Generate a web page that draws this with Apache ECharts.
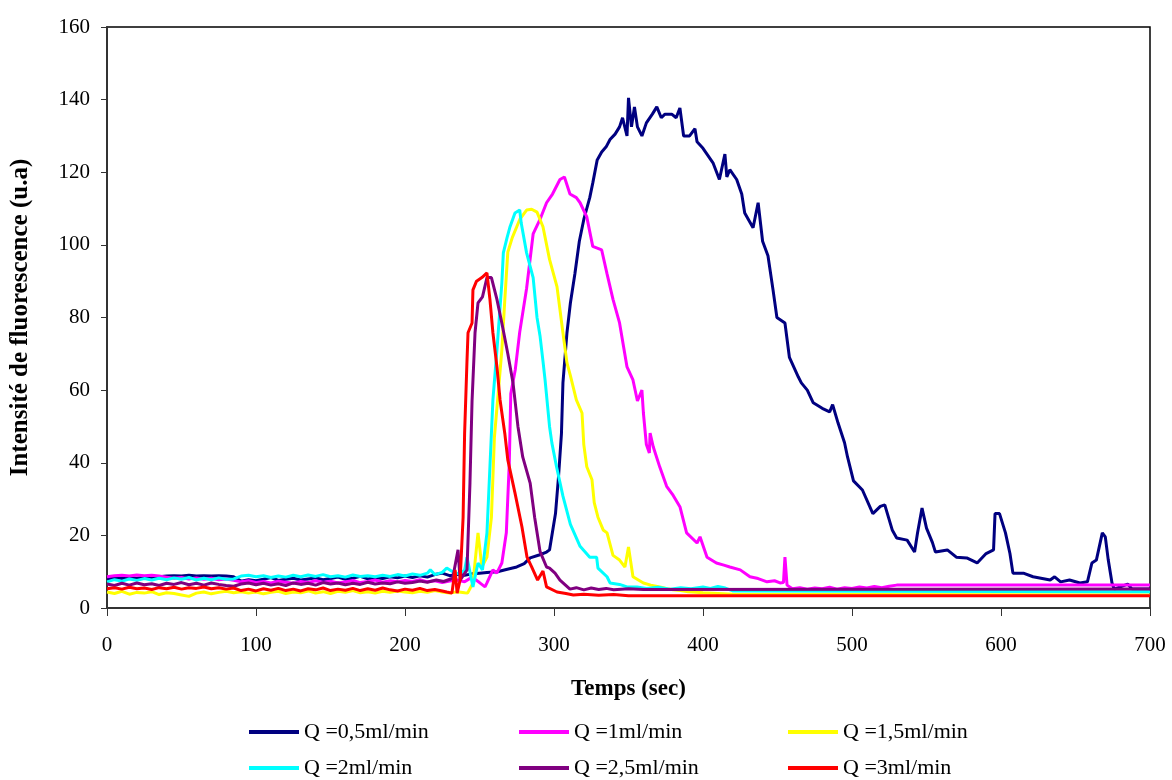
<!DOCTYPE html>
<html>
<head>
    <title>Intensité de fluorescence</title>
    <meta charset="utf-8" />
    <style>
        html, body { margin: 0; padding: 0; background: #fff; }
        #chart { width: 1172px; height: 780px; }
    </style>
</head>
<body>
    <div id="chart"></div>

    <script src="https://cdn.jsdelivr.net/npm/echarts@6/dist/echarts.min.js"></script>
    <script>
        // data: [temps (sec), intensité (u.a)]
        // ------------------------------------------------------
        var seriesNames = ['Q =0,5ml/min', 'Q =1ml/min', 'Q =1,5ml/min', 'Q =2ml/min', 'Q =2,5ml/min', 'Q =3ml/min'];
        var seriesColors = ['#000080', '#FF00FF', '#FFFF00', '#00FFFF', '#800080', '#FF0000'];
        var xTicks = [0, 100, 200, 300, 400, 500, 600, 700];
        var yTicks = [0, 20, 40, 60, 80, 100, 120, 140, 160];

        var q05 = [
            [0, 8.0], [5, 8.3], [10, 8.1], [15, 8.4], [20, 8.2], [25, 8.5], [30, 8.3], [35, 8.6], [40, 8.8], [45, 8.9],
            [50, 8.8], [55, 9.0], [60, 8.8], [65, 8.9], [70, 8.8], [75, 8.9], [80, 8.8], [85, 8.6], [90, 7.4], [95, 7.8],
            [100, 7.5], [105, 7.9], [110, 8.4], [115, 7.6], [120, 7.9], [125, 8.2], [130, 7.7], [135, 8.0], [140, 8.3], [145, 7.8],
            [150, 8.1], [155, 8.5], [160, 7.9], [165, 8.2], [170, 8.7], [175, 8.0], [180, 8.4], [185, 8.1], [190, 8.6], [195, 8.3],
            [200, 8.8], [205, 8.4], [210, 8.9], [215, 8.5], [220, 9.2], [225, 9.6], [230, 8.9], [235, 9.3], [240, 9.0], [245, 9.4],
            [250, 9.6], [255, 9.8], [262, 10.0], [268, 10.6], [275, 11.3], [280, 12.2], [284, 13.8], [290, 14.6], [295, 15.4], [297, 16],
            [301, 26], [303, 36], [305, 48], [306, 62], [308.7, 75.8], [311, 84], [314, 92], [317, 101], [320, 107], [324, 113],
            [326, 117], [329, 123.4], [332, 125.6], [335, 127], [337.6, 129], [341, 130.5], [344, 132.5], [346, 135], [349, 130], [350, 140.5],
            [352, 132.5], [354, 138], [356, 132.5], [359, 130], [362, 133.6], [366, 136], [369, 138], [372, 135], [374.5, 136], [379, 136],
            [382, 135], [384.5, 137.7], [387, 130], [391, 130], [394.6, 132], [396, 128.4], [400, 126.6], [406.7, 122.6], [411, 118], [414.7, 125],
            [416, 118.7], [418, 120.7], [422.6, 118], [426, 114], [428, 108.8], [433.6, 104.7], [437, 111.6], [440, 101], [443.6, 97], [447, 87.6],
            [449.6, 80], [455, 78.5], [458, 69], [464, 63.6], [466, 62], [470, 60], [474, 56.5], [480, 55], [485, 54], [487, 56],
            [490.6, 51], [495, 45.5], [497, 41.6], [501, 35], [507, 32.5], [514, 26], [519, 28], [522, 28.4], [527, 21.5], [530, 19.3],
            [537, 18.7], [542, 15.4], [544, 20.7], [547, 27.5], [550, 22], [554, 18], [556, 15.4], [564, 16], [570, 14], [577, 13.8],
            [584, 12.4], [590, 15], [595, 16], [596, 26], [599, 26], [603, 20.7], [606, 15], [608, 9.6], [615, 9.6], [621.5, 8.6],
            [633, 7.7], [636, 8.6], [640, 7.2], [646, 7.7], [653, 6.9], [658, 7.2], [661, 12.4], [664, 13.2], [668, 20.7], [670, 19.6],
            [672, 13.2], [674.5, 6.9], [676, 5.2], [685, 6.6], [688, 5.2], [700, 5.2]
        ];

        var q1 = [
            [0, 8.6], [5, 8.9], [10, 9.0], [15, 8.8], [20, 9.1], [25, 8.9], [30, 9.0], [35, 8.8], [40, 8.5], [45, 8.2],
            [50, 8.4], [55, 8.0], [60, 8.3], [65, 7.9], [70, 8.2], [75, 7.8], [80, 8.0], [85, 7.6], [90, 7.2], [95, 7.5],
            [100, 7.0], [105, 7.3], [110, 6.9], [115, 7.4], [120, 7.1], [125, 6.8], [130, 7.3], [135, 7.0], [140, 7.5], [145, 7.1],
            [150, 7.4], [155, 6.9], [160, 7.2], [165, 7.6], [170, 7.0], [175, 7.3], [180, 7.7], [185, 7.1], [190, 7.5], [195, 7.2],
            [200, 7.6], [205, 7.3], [210, 7.8], [215, 7.2], [220, 7.5], [225, 7.0], [230, 7.4], [235, 7.7], [240, 7.2], [245, 8.5],
            [250, 7.0], [253.7, 5.8], [255, 6.9], [259, 10.5], [261.6, 9.6], [265, 12.4], [268, 20.7], [270, 40], [271, 59], [274, 65.6],
            [277, 76], [281.6, 88], [286, 103], [290.6, 107], [295, 111.6], [299, 114], [304, 118], [307, 118.7], [310.7, 114], [315, 113],
            [317.5, 111.6], [322, 107.7], [326, 99.6], [332, 98.6], [335.6, 92], [339.6, 85], [344, 78.5], [349, 66.4], [353, 62.8], [356, 57],
            [359, 60], [360, 53.7], [362, 45], [364, 42.7], [364.5, 48.2], [366.6, 44.4], [371, 38.8], [375.6, 33.5], [380, 31], [384.6, 27.8],
            [389, 20.7], [396, 17.9], [398, 19.6], [402.7, 14], [409, 12.4], [414, 11.8], [418, 11.3], [425, 10.5], [431.5, 8.6], [437, 8.1],
            [443, 7.2], [448, 7.5], [451.7, 6.9], [454, 7.0], [455, 14], [456.4, 6.3], [460, 5.3], [465, 5.6], [470, 5.2], [475, 5.5],
            [480, 5.3], [485, 5.7], [490, 5.2], [495, 5.6], [500, 5.4], [505, 5.8], [510, 5.5], [515, 5.9], [520, 5.6], [525, 6.0],
            [530, 6.3], [700, 6.3]
        ];

        var q15 = [
            [0, 4.4], [5, 4.0], [10, 4.6], [15, 3.8], [20, 4.3], [25, 4.1], [30, 4.5], [35, 3.7], [40, 4.2], [45, 4.0],
            [50, 3.6], [55, 3.2], [60, 4.1], [65, 4.4], [70, 3.9], [75, 4.3], [80, 4.6], [85, 4.2], [90, 4.5], [95, 4.1],
            [100, 4.4], [105, 3.9], [110, 4.3], [115, 4.6], [120, 4.0], [125, 4.4], [130, 4.2], [135, 4.7], [140, 4.1], [145, 4.5],
            [150, 4.0], [155, 4.6], [160, 4.3], [165, 4.8], [170, 4.2], [175, 4.5], [180, 4.1], [185, 4.6], [190, 4.3], [195, 4.7],
            [200, 4.4], [205, 4.2], [210, 4.6], [215, 4.3], [220, 4.8], [225, 4.4], [230, 4.1], [235, 4.5], [240, 4.2], [242, 4.1],
            [245.6, 6.9], [249, 20.7], [251.6, 11.3], [255, 14], [258, 25], [260, 47], [262, 56.5], [265, 71], [267, 85], [269, 98],
            [272, 102], [275, 105], [277, 107], [281.6, 109.6], [285, 109.8], [288.6, 109], [292.6, 105], [297, 96], [302, 88.5], [306, 75.8],
            [308.7, 67.5], [311, 64], [315, 57.3], [318.8, 53.7], [320, 45], [322, 38.9], [325.5, 35.3], [327, 29], [329.5, 25], [333, 21.5],
            [335.6, 20.7], [339.6, 14.5], [344, 13.2], [347.6, 11.3], [350, 16.8], [353, 8.6], [360, 6.9], [365, 6.3], [371, 5.8], [376, 5.3],
            [380, 5.0], [385, 4.8], [390, 4.5], [400, 4.2], [420, 3.8], [700, 3.6]
        ];

        var q2 = [
            [0, 7.2], [5, 7.8], [10, 7.4], [15, 8.0], [20, 7.6], [25, 8.1], [30, 7.7], [35, 8.2], [40, 7.8], [45, 8.3],
            [50, 7.9], [55, 8.4], [60, 7.7], [65, 8.2], [70, 7.8], [75, 8.3], [80, 7.9], [85, 8.0], [90, 8.8], [95, 9.0],
            [100, 8.6], [105, 8.9], [110, 8.4], [115, 8.8], [120, 8.5], [125, 9.0], [130, 8.6], [135, 9.1], [140, 8.7], [145, 9.2],
            [150, 8.6], [155, 8.9], [160, 8.5], [165, 9.1], [170, 8.7], [175, 8.9], [180, 8.6], [185, 9.0], [190, 8.7], [195, 9.2],
            [200, 8.8], [205, 9.4], [210, 9.0], [215, 9.6], [217, 10.5], [220, 9.2], [225, 9.8], [228, 11.0], [232, 10], [236, 9.4],
            [240, 10.4], [241.6, 14], [245.6, 5.8], [249, 12.4], [252, 10.5], [255, 20.7], [257, 38.9], [259, 57.3], [261.7, 71], [265, 89.5],
            [266, 97.8], [268.5, 102], [270.5, 105], [273.8, 108.8], [277, 109.6], [278, 106], [281.6, 97.8], [286, 91], [288.6, 80], [290.6, 75],
            [292.6, 68], [294, 62.8], [297, 50], [298.6, 45.4], [301.7, 38.9], [306, 30.8], [311, 23], [317.5, 17], [324, 14], [328.6, 14],
            [329.5, 11], [335.6, 8.6], [337.6, 6.9], [344, 6.5], [349, 5.8], [355.7, 5.8], [362, 5.4], [370, 5.7], [378, 5.2], [385, 5.6],
            [392, 5.3], [400, 5.8], [405, 5.4], [410, 5.9], [415, 5.5], [420, 4.7], [700, 4.5]
        ];

        var q25 = [
            [0, 6.6], [5, 6.2], [10, 6.8], [15, 6.3], [20, 6.9], [25, 6.4], [30, 6.7], [35, 6.2], [40, 6.8], [45, 6.5],
            [50, 7.0], [55, 6.4], [60, 6.8], [65, 6.3], [70, 6.9], [75, 6.5], [80, 6.2], [85, 6.0], [90, 6.6], [95, 6.9],
            [100, 6.4], [105, 6.8], [110, 6.3], [115, 6.7], [120, 6.2], [125, 6.9], [130, 6.5], [135, 6.8], [140, 6.3], [145, 7.0],
            [150, 6.6], [155, 6.9], [160, 6.4], [165, 6.8], [170, 6.5], [175, 7.1], [180, 6.6], [185, 6.9], [190, 6.7], [195, 7.2],
            [200, 6.8], [205, 7.0], [210, 7.4], [215, 7.1], [221, 7.7], [226, 7.3], [232, 8.2], [235.6, 16], [237, 7.7], [241.6, 10.5],
            [243.6, 34.4], [245, 57], [247, 75.8], [249, 84], [252, 85.7], [255, 91], [258, 91], [261.7, 85], [265, 78.5], [269, 70],
            [272.5, 62], [275.8, 50], [279, 41.6], [284, 34.4], [287, 25], [290.6, 15.6], [295, 11.3], [297, 11], [300.7, 9.6], [304, 7.7],
            [310.7, 5.2], [315, 5.6], [320, 5.0], [325, 5.5], [330, 5.1], [335, 5.4], [340, 5.0], [350, 5.3], [360, 5.1], [700, 5.2]
        ];

        var q3 = [
            [0, 5.3], [5, 5.6], [10, 5.2], [15, 5.7], [20, 5.3], [25, 5.5], [30, 5.1], [35, 5.6], [40, 5.3], [45, 5.7],
            [50, 5.2], [55, 5.6], [60, 5.4], [65, 5.8], [70, 5.3], [75, 5.6], [80, 5.2], [85, 5.5], [90, 4.8], [95, 5.2],
            [100, 4.7], [105, 5.3], [110, 4.9], [115, 5.4], [120, 4.8], [125, 5.2], [130, 4.7], [135, 5.3], [140, 5.0], [145, 5.5],
            [150, 4.8], [155, 5.2], [160, 4.9], [165, 5.4], [170, 4.8], [175, 5.3], [180, 4.9], [185, 5.5], [190, 5.0], [195, 4.7],
            [200, 5.2], [205, 4.9], [210, 5.4], [215, 4.8], [220, 5.1], [225, 4.7], [228, 4.4], [231.5, 4.1], [233.6, 10.5], [235, 4.1],
            [237, 7.7], [239, 25], [240, 48], [241.6, 68], [242.3, 75.8], [245, 78.5], [245.6, 87.6], [248, 90], [251.6, 91], [255, 92.3],
            [257, 85], [259, 75.8], [261.7, 66.4], [263.8, 57.3], [267, 48], [269, 40.8], [273.8, 31.7], [278.5, 22.3], [281.9, 14], [285, 11.3],
            [289, 7.7], [292.6, 10.2], [295, 5.8], [302, 4.4], [308, 4.0], [313, 3.6], [320, 3.8], [330, 3.5], [340, 3.7], [350, 3.4],
            [700, 3.4]
        ];

        var seriesData = [q05, q1, q15, q2, q25, q3];

        // options
        // ------------------------------------------------------
        var font = '"Liberation Serif", "Times New Roman", serif';

        var series = seriesData.map(function (d, i) {
            return {
                name: seriesNames[i],
                type: 'line',
                data: d,
                showSymbol: false,
                symbol: 'none',
                lineStyle: { width: 3, color: seriesColors[i] },
                itemStyle: { color: seriesColors[i] }
            };
        });

        // one legend per item, laid out in 3 columns x 2 rows
        var legendCols = [249, 519, 788];
        var legendRows = [721, 757];
        var legends = seriesNames.map(function (name, i) {
            return {
                data: [name],
                left: legendCols[i % 3],
                top: legendRows[Math.floor(i / 3)],
                padding: 0,
                icon: 'rect',
                itemWidth: 50,
                itemHeight: 4,
                itemGap: 0,
                textStyle: { fontFamily: font, fontSize: 22, color: '#000' }
            };
        });

        var option = {
            animation: false,
            backgroundColor: '#fff',
            grid: {
                left: 107, right: 22, top: 27, bottom: 172,
                show: true, borderColor: '#000', borderWidth: 1.5, backgroundColor: 'transparent'
            },
            legend: legends,
            xAxis: {
                type: 'value',
                min: xTicks[0],
                max: xTicks[xTicks.length - 1],
                interval: 100,
                name: 'Temps (sec)',
                nameLocation: 'middle',
                nameGap: 70,
                nameTextStyle: { fontFamily: font, fontSize: 23, fontWeight: 'bold', color: '#000' },
                axisLine: { show: true, lineStyle: { color: '#333', width: 2 } },
                axisTick: { show: true, length: 8, lineStyle: { color: '#333' } },
                axisLabel: { fontFamily: font, fontSize: 21, color: '#000', margin: 27 },
                splitLine: { show: false }
            },
            yAxis: {
                type: 'value',
                min: yTicks[0],
                max: yTicks[yTicks.length - 1],
                interval: 20,
                name: 'Intensité de fluorescence (u.a)',
                nameLocation: 'middle',
                nameGap: 74,
                nameTextStyle: { fontFamily: font, fontSize: 25, fontWeight: 'bold', color: '#000' },
                axisLine: { show: true, lineStyle: { color: '#333', width: 2 } },
                axisTick: { show: true, length: 6, lineStyle: { color: '#333' } },
                axisLabel: { fontFamily: font, fontSize: 21, color: '#000', margin: 17 },
                splitLine: { show: false }
            },
            series: series
        };

        var chart = echarts.init(document.getElementById('chart'));
        chart.setOption(option);
    </script>
</body>
</html>
